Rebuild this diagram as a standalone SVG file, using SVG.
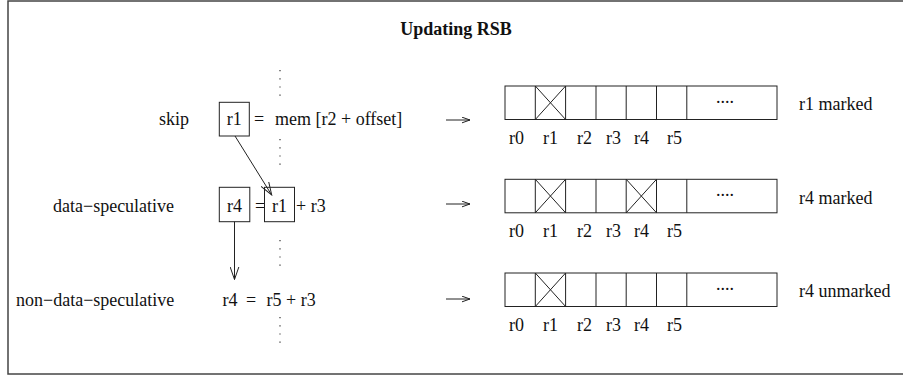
<svg xmlns="http://www.w3.org/2000/svg" width="903" height="375" viewBox="0 0 903 375">
<style>
text{font-family:'Liberation Serif','DejaVu Serif',serif;font-size:18px;fill:#111}
.title{font-weight:bold}
.box{fill:none;stroke:#222;stroke-width:1}
.ln{stroke:#222;stroke-width:1;fill:none}
.dot{stroke:#333;stroke-width:1.2;stroke-dasharray:1.2 7;fill:none}
</style>
<defs>
<marker id="v" viewBox="0 0 14 10" refX="13" refY="5" markerWidth="14" markerHeight="10" markerUnits="userSpaceOnUse" orient="auto">
<path d="M0,0.5 L13,5 L0,9.5" fill="none" stroke="#222" stroke-width="1"/>
</marker>
<marker id="h" viewBox="0 0 9 7" refX="8.5" refY="3.5" markerWidth="9" markerHeight="7" markerUnits="userSpaceOnUse" orient="auto">
<path d="M0,0.5 L8.5,3.5 L0,6.5" fill="none" stroke="#222" stroke-width="1"/>
</marker>
<g id="rsb" font-family="Liberation Serif, DejaVu Serif, serif" font-size="18">
<rect class="box" x="505" y="0" width="272" height="33.5"/>
<line class="ln" x1="535.3" y1="0" x2="535.3" y2="33.5"/>
<line class="ln" x1="565.6" y1="0" x2="565.6" y2="33.5"/>
<line class="ln" x1="596" y1="0" x2="596" y2="33.5"/>
<line class="ln" x1="626.2" y1="0" x2="626.2" y2="33.5"/>
<line class="ln" x1="656.5" y1="0" x2="656.5" y2="33.5"/>
<line class="ln" x1="686.8" y1="0" x2="686.8" y2="33.5"/>
<line class="ln" x1="535.3" y1="0" x2="565.6" y2="33.5"/>
<line class="ln" x1="565.6" y1="0" x2="535.3" y2="33.5"/>
<text x="716" y="17">....</text>
<text x="509" y="58">r0</text>
<text x="543" y="58">r1</text>
<text x="577" y="58">r2</text>
<text x="606" y="58">r3</text>
<text x="634" y="58">r4</text>
<text x="667" y="58">r5</text>
</g>
</defs>
<rect x="8" y="1" width="900" height="373" fill="none" stroke="#444" stroke-width="1.5"/>
<g font-family="Liberation Serif, DejaVu Serif, serif" font-size="18">
<text class="title" x="456" y="35" text-anchor="middle" font-weight="bold">Updating RSB</text>

<g id="row1">
<text x="159" y="125">skip</text>
<rect class="box" x="219.3" y="102.3" width="30" height="33.7"/>
<text x="234.3" y="125" text-anchor="middle">r1</text>
<text x="254" y="125">=</text>
<text x="275" y="125">mem [r2 + offset]</text>
</g>
<g id="row2">
<text x="53" y="212">data−speculative</text>
<rect class="box" x="219.3" y="187.3" width="30.5" height="34.4"/>
<text x="234.5" y="212" text-anchor="middle">r4</text>
<text x="255" y="212">=</text>
<rect class="box" x="264.5" y="187.3" width="30" height="34.4"/>
<text x="279.5" y="212" text-anchor="middle">r1</text>
<text x="296" y="212">+ r3</text>
</g>
<g id="row3">
<text x="16" y="306">non−data−speculative</text>
<text x="222.5" y="306">r4</text>
<text x="246" y="306">=</text>
<text x="266.5" y="306">r5 + r3</text>
</g>

<g id="rsb1">
<use href="#rsb" x="0" y="86"/>
<text x="799" y="110">r1 marked</text>
</g>
<g id="rsb2">
<use href="#rsb" x="0" y="179.3"/>
<line class="ln" x1="626.2" y1="179.3" x2="656.5" y2="212.8"/>
<line class="ln" x1="656.5" y1="179.3" x2="626.2" y2="212.8"/>
<text x="799" y="204">r4 marked</text>
</g>
<g id="rsb3">
<use href="#rsb" x="0" y="273"/>
<text x="799" y="297">r4 unmarked</text>
</g>
</g>

<g id="connectors">
<line class="dot" x1="280" y1="70" x2="280" y2="98"/>
<line class="dot" x1="280" y1="139" x2="280" y2="168"/>
<line class="dot" x1="280" y1="240" x2="280" y2="268"/>
<line class="dot" x1="280" y1="317" x2="280" y2="345"/>
<line class="ln" x1="235" y1="136" x2="271.7" y2="195" marker-end="url(#v)"/>
<line class="ln" x1="234.5" y1="221.7" x2="234.5" y2="279.5" marker-end="url(#v)"/>
<line class="ln" x1="446" y1="120" x2="470" y2="120" marker-end="url(#h)"/>
<line class="ln" x1="446" y1="204" x2="470" y2="204" marker-end="url(#h)"/>
<line class="ln" x1="446" y1="299" x2="470" y2="299" marker-end="url(#h)"/>
</g>
</svg>
